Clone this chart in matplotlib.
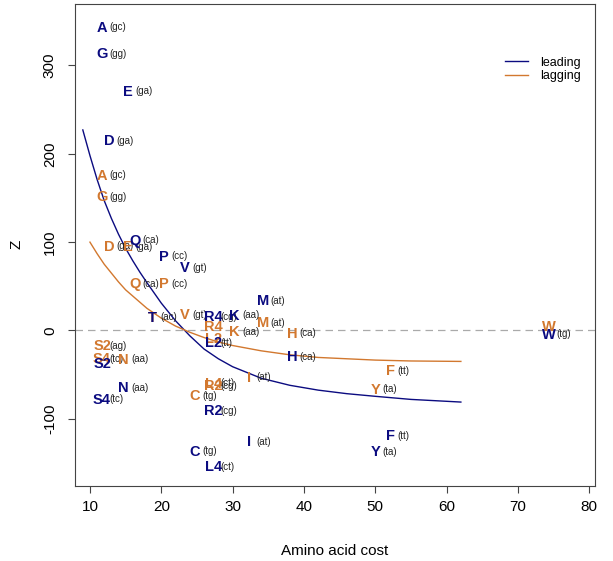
import matplotlib
matplotlib.use("Agg")
import matplotlib.pyplot as plt

plt.rcParams['font.family'] = ['Liberation Sans', 'DejaVu Sans']
plt.rcParams['axes.unicode_minus'] = False

# amino acid cost (x) and Z values
lead_aa = ["A", "G", "E", "D", "Q", "P", "V", "T", "M", "R4", "K", "L2", "H",
           "S2", "N", "S4", "R2", "I", "C", "L4", "F", "Y", "W"]
lead_cost = [11.7, 11.7, 15.3, 12.7, 16.3, 20.3, 23.3, 18.8, 34.3, 27.3, 30.3, 27.3, 38.3,
             11.7, 14.7, 11.7, 27.3, 32.3, 24.7, 27.3, 52.1, 50.0, 74.4]
lead_z = [342.7, 312.8, 270.4, 214.5, 101.5, 83.3, 70.2, 14.6, 33.4, 15.3, 16.9, -14.2, -30.0,
          -38.3, -65.2, -78.3, -91.3, -126.4, -137.0, -154.8, -119.6, -137.8, -4.6]
lead_codon = ["gc", "gg", "ga", "ga", "ca", "cc", "gt", "", "at", "cg", "aa", "tt", "ca",
              "", "aa", "tc", "cg", "at", "tg", "ct", "tt", "ta", "tg"]

lag_aa = ["A", "G", "D", "E", "Q", "P", "T", "V", "R4", "K", "M", "H", "L2",
          "S2", "S4", "N", "L4", "R2", "C", "I", "F", "Y", "W"]
lag_cost = [11.7, 11.7, 12.7, 15.3, 16.3, 20.3, 18.8, 23.3, 27.3, 30.3, 34.3, 38.3, 27.3,
            11.7, 11.7, 14.7, 27.3, 27.3, 24.7, 32.3, 52.1, 50.0, 74.4]
lag_z = [175.2, 150.7, 94.7, 94.0, 52.4, 52.4, 14.6, 17.2, 4.0, -1.7, 8.5, -3.5, -9.2,
         -17.9, -32.7, -33.0, -60.2, -63.3, -74.6, -53.4, -45.9, -67.0, 4.0]
lag_codon = ["gc", "gg", "ga", "ga", "ca", "cc", "ac", "gt", "", "aa", "at", "ca", "",
             "ag", "tc", "aa", "ct", "cg", "tg", "at", "tt", "ta", ""]

# fitted curves
lead_fit_x = [9, 10, 11, 12, 13, 14, 15, 16, 17, 18, 20, 22, 24, 26, 28, 30, 34, 38, 42, 46, 50, 55, 62]
lead_fit_y = [227, 198, 171, 147, 127, 109, 93, 79, 66, 54, 31, 11, -6, -21, -32, -41, -54, -62,
              -67.5, -71.5, -74.5, -78, -81]
lag_fit_x = [10, 11, 12, 13, 14, 15, 16, 18, 20, 22, 24, 26, 28, 30, 34, 38, 42, 46, 50, 55, 62]
lag_fit_y = [100, 87, 75, 65, 55, 46, 39, 25, 14, 5, -2, -8, -13, -17, -23, -27.5, -30.5, -32,
             -33.5, -34.5, -35]

BLUE = "#0B0B80"
ORANGE = "#D2782F"

fig = plt.figure(figsize=(6.13, 5.61), dpi=100)
ax = fig.add_axes([0.1223, 0.1337, 0.8483, 0.8599])

ax.axhline(0, color="#AAAAAA", lw=0.9, ls=(0, (6, 4)), zorder=1)
ax.plot(lead_fit_x, lead_fit_y, color=BLUE, lw=1.0, label="leading")
ax.plot(lag_fit_x, lag_fit_y, color=ORANGE, lw=1.0, label="lagging")


def put_labels(names, xs, ys, codons, col):
    for name, x, y, cod in zip(names, xs, ys, codons):
        ax.text(x, y, name, color=col, fontsize=10.5, fontweight="bold",
                ha="center", va="center")
        if cod:
            ax.annotate(f"({cod})", (x, y), xytext=(5.4, 0.3), textcoords="offset points",
                        ha="left", va="center", fontsize=7, color="#222222")


put_labels(lag_aa, lag_cost, lag_z, lag_codon, ORANGE)
put_labels(lead_aa, lead_cost, lead_z, lead_codon, BLUE)

ax.set_xlim(7.9, 80.8)
ax.set_ylim(-176, 370)
ax.set_xticks([10, 20, 30, 40, 50, 60, 70, 80])
ax.set_yticks([-100, 0, 100, 200, 300])
ax.tick_params(axis="both", labelsize=11, length=5, width=0.8, color="#444444", pad=5)
ax.tick_params(axis="y", labelrotation=90, pad=8)
for lab in ax.get_yticklabels():
    lab.set_va("center")
for sp in ax.spines.values():
    sp.set_color("#444444")
    sp.set_linewidth(0.8)

ax.set_xlabel("Amino acid cost", fontsize=11, labelpad=22)
ax.set_ylabel("Z", fontsize=11, labelpad=14)

ax.legend(loc="upper left", bbox_to_anchor=(0.827, 0.89), bbox_transform=ax.transAxes,
          frameon=False, fontsize=9, handlelength=1.85, handletextpad=0.95,
          labelspacing=0.12, borderpad=0, borderaxespad=0)

fig.savefig("out.png", dpi=100)
